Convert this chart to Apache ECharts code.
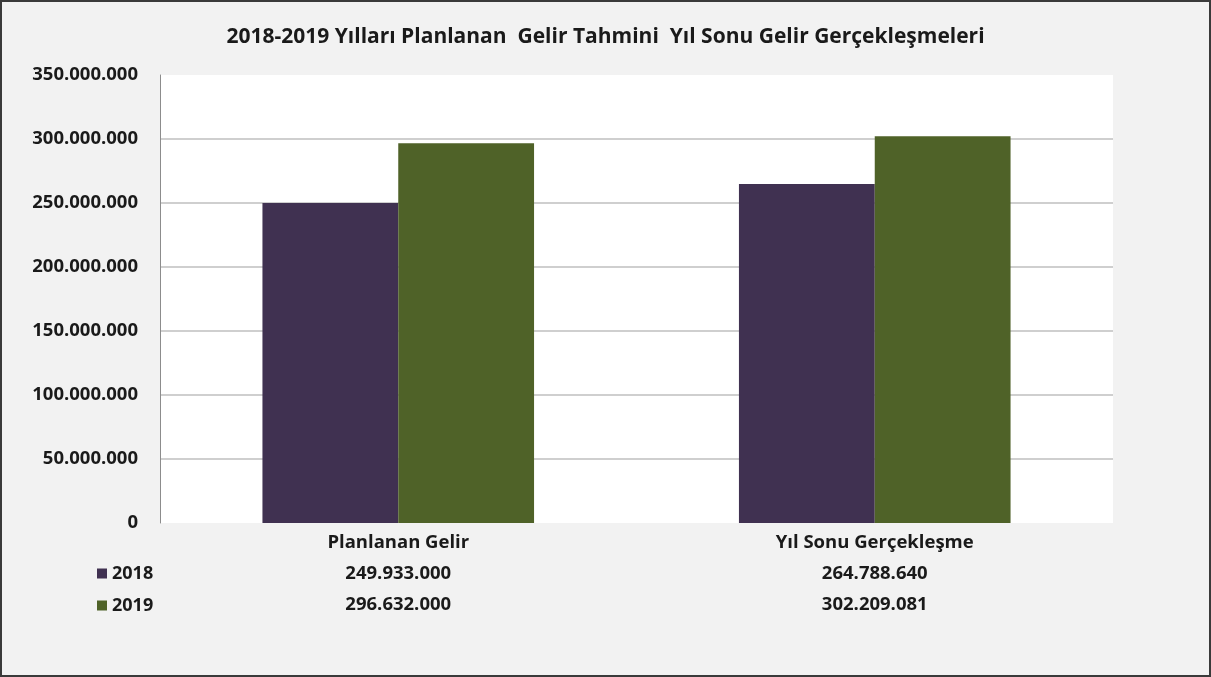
<!DOCTYPE html>
<html>
<head>
<meta charset="utf-8">
<script src="https://cdn.jsdelivr.net/npm/echarts@6/dist/echarts.min.js"></script>
<style>
  html, body { margin: 0; padding: 0; background: #fff; }
  #chart { width: 1211px; height: 677px; box-sizing: border-box; border: 2px solid #3a3a3a; background: #f2f2f2; }
</style>
</head>
<body>
<div id="chart"></div>
<script>
var categories = ['Planlanan Gelir', 'Yıl Sonu Gerçekleşme'];
var seriesNames = ['2018', '2019'];
var values2018 = [249933000, 264788640];
var values2019 = [296632000, 302209081];
var colors = ['#403151', '#4f6228'];

function fmt(v) {
  return String(v).replace(/\B(?=(\d{3})+(?!\d))/g, '.');
}

var chartDom = document.getElementById('chart');
var myChart = echarts.init(chartDom);
var font = '"Open Sans", "Noto Sans", sans-serif';

var option = {
  animation: false,
  color: colors,
  title: {
    text: '2018-2019 Yılları Planlanan  Gelir Tahmini  Yıl Sonu Gelir Gerçekleşmeleri',
    left: 'center',
    top: 20,
    textStyle: { fontFamily: font, fontWeight: 'bold', fontSize: 21, color: '#1a1a1a' }
  },
  legend: {
    data: seriesNames,
    orient: 'vertical',
    left: 90,
    top: 557,
    icon: 'rect',
    itemWidth: 10,
    itemHeight: 10,
    itemGap: 13,
    textStyle: { fontFamily: font, fontWeight: 'bold', fontSize: 18, color: '#1a1a1a', lineHeight: 19 }
  },
  grid: { left: 158, right: 96, top: 73, bottom: 152, containLabel: false,
          show: true, backgroundColor: '#ffffff', borderWidth: 0 },
  xAxis: {
    type: 'category',
    data: categories,
    axisLine: { show: false },
    axisTick: { show: false },
    axisLabel: {
      margin: 4,
      fontFamily: font, fontWeight: 'bold', fontSize: 18.5, color: '#1a1a1a',
      lineHeight: 31,
      formatter: function (v, i) {
        return v + '\n' + fmt(values2018[i]) + '\n' + fmt(values2019[i]);
      }
    }
  },
  yAxis: {
    type: 'value',
    min: 0,
    max: 350000000,
    interval: 50000000,
    axisLine: { show: true, lineStyle: { color: '#8c8c8c', width: 1 } },
    axisTick: { show: false },
    axisLabel: {
      margin: 22,
      fontFamily: font, fontWeight: 'bold', fontSize: 18.5, color: '#1a1a1a',
      formatter: function (v) { return fmt(v); }
    },
    splitLine: { lineStyle: { color: ['transparent', '#bfbfbf', '#bfbfbf', '#bfbfbf', '#bfbfbf', '#bfbfbf', '#bfbfbf', 'transparent'], width: 1.5 } }
  },
  series: [
    { name: seriesNames[0], type: 'bar', data: values2018, barGap: '0%', barCategoryGap: '43%' },
    { name: seriesNames[1], type: 'bar', data: values2019, barGap: '0%', barCategoryGap: '43%' }
  ]
};

option && myChart.setOption(option);
</script>
</body>
</html>
